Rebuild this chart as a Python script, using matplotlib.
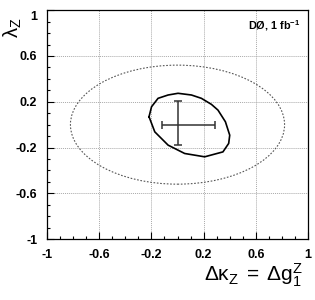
import matplotlib
matplotlib.use("Agg")
import matplotlib.pyplot as plt
from matplotlib.patches import Ellipse
from matplotlib.ticker import MultipleLocator, FixedLocator
import matplotlib.transforms as mtransforms

plt.rcParams['font.family'] = ['Liberation Sans', 'DejaVu Sans']
plt.rcParams['mathtext.fontset'] = 'custom'
plt.rcParams['mathtext.rm'] = 'Liberation Sans'
plt.rcParams['mathtext.it'] = 'Liberation Sans'

# Data
major_ticks = [-1, -0.6, -0.2, 0.2, 0.6, 1]
tick_labels = ['-1', '-0.6', '-0.2', '0.2', '0.6', '1']

# best fit point and 1D errors
fit_x, fit_y = 0.0, 0.0
err_x_lo, err_x_hi = 0.12, 0.29
err_y_lo, err_y_hi = 0.18, 0.21

# 95% C.L. contour (solid)
contour_x = [-0.218, -0.199, -0.149, -0.072, 0.004, 0.107, 0.183, 0.260, 0.310,
             0.367, 0.400, 0.392, 0.348, 0.208, 0.055, -0.072, -0.174, -0.218]
contour_y = [0.069, 0.156, 0.230, 0.259, 0.274, 0.259, 0.230, 0.177, 0.127,
             0.025, -0.092, -0.164, -0.238, -0.281, -0.252, -0.179, -0.063, 0.069]

# unitarity limit (dotted ellipse)
unit_center = (0.0, 0.0)
unit_width = 1.64
unit_height = 1.04

fig = plt.figure(figsize=(3.15, 3.0), dpi=100)
ax = fig.add_axes([0.149, 0.203, 0.829, 0.763])
ax.set_xlim(-1, 1)
ax.set_ylim(-1, 1)

ax.grid(True, which='major', color='#aaaaaa', linestyle=(0, (1, 1)), linewidth=0.7)
ax.set_axisbelow(True)

ell = Ellipse(unit_center, unit_width, unit_height, fill=False,
              edgecolor='#555555', linestyle=(0, (1.5, 1.5)), linewidth=0.8)
ax.add_patch(ell)

ax.plot(contour_x, contour_y, color='black', linewidth=1.2)

ax.errorbar([fit_x], [fit_y], xerr=[[err_x_lo], [err_x_hi]], yerr=[[err_y_lo], [err_y_hi]],
            fmt='none', ecolor='#333333', elinewidth=1.1, capsize=3, capthick=1.1)

ax.xaxis.set_major_locator(FixedLocator(major_ticks))
ax.yaxis.set_major_locator(FixedLocator(major_ticks))
ax.xaxis.set_minor_locator(MultipleLocator(0.1))
ax.yaxis.set_minor_locator(MultipleLocator(0.1))
ax.set_xticklabels(tick_labels, fontweight='bold', fontsize=9)
ax.set_yticklabels(tick_labels, fontweight='bold', fontsize=9)
ax.tick_params(which='major', direction='in', length=5, width=0.8, pad=7,
               top=False, right=False)
ax.tick_params(which='minor', direction='in', length=2.5, width=0.8,
               top=False, right=False)
for s in ax.spines.values():
    s.set_linewidth(0.9)

# shift top y label down a bit (ROOT style)
lab = ax.get_yticklabels()[-1]
lab.set_transform(lab.get_transform() + mtransforms.ScaledTranslation(0, -4 / 72, fig.dpi_scale_trans))

ax.text(0.97, 0.932, 'DØ, 1 fb$^{\\mathregular{-1}}$', transform=ax.transAxes, ha='right', va='center',
        fontsize=7.8, fontweight='bold')

fig.text(0.962, 0.063, r'$\mathregular{Δκ_Z\;=\;Δg^Z_1}$', ha='right', va='baseline', fontsize=15)
fig.text(0.04, 0.943, r'$\mathregular{λ_Z}$', ha='center', va='top', fontsize=14.5, rotation=90)

fig.savefig('out.png', dpi=100)
